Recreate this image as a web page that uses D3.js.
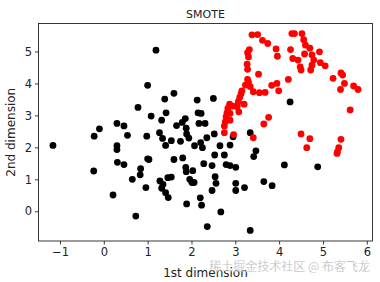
<!DOCTYPE html>
<html>
<head>
<meta charset="utf-8">
<script src="https://cdn.jsdelivr.net/npm/d3@7"></script>
<style>
  body { margin: 0; background: #fff; }
  svg { display: block; font-family: "DejaVu Sans", sans-serif; }
</style>
</head>
<body>
<div id="chart"></div>
<script>
// ---- DATA ----
const chartTitle = "SMOTE";
const xLabel = "1st dimension";
const yLabel = "2nd dimension";
const xTicks = [-1, 0, 1, 2, 3, 4, 5, 6];
const yTicks = [0, 1, 2, 3, 4, 5];

// majority class (black)
const blackPoints = [
  [-1.16, 2.06], [-0.22, 2.35], [-0.10, 2.58], [-0.23, 1.26], [0.21, 0.51],
  [0.30, 2.75], [0.30, 2.05], [0.30, 1.93], [0.31, 1.53], [0.46, 2.67],
  [0.54, 2.375], [0.46, 1.46], [0.65, 1.0], [0.73, -0.15], [0.78, 3.25],
  [0.84, 1.33], [0.83, 1.14], [0.96, 0.74], [1.0, 3.94], [0.98, 2.35],
  [1.0, 1.64], [1.03, 1.62], [1.08, 2.98], [1.19, 5.04], [1.27, 2.46],
  [1.28, 0.95], [1.32, 2.85], [1.34, 2.28], [1.39, 3.51], [1.42, 3.08],
  [1.41, 2.06], [1.32, 0.72], [1.35, 0.84], [1.41, 0.58], [1.47, 0.43],
  [1.46, 1.05], [1.54, 1.07], [1.54, 2.21], [1.60, 1.62], [1.60, 3.69],
  [1.66, 2.68], [1.75, 2.19], [1.79, 2.78], [1.80, 1.67], [1.86, 2.90],
  [1.88, 2.60], [1.89, 2.42], [1.94, 2.29], [1.87, 1.375], [1.88, 1.24],
  [1.89, 0.23], [1.96, 1.0], [2.01, 0.90], [2.03, 1.27], [2.06, 0.90],
  [2.07, 2.05], [2.13, 3.48], [2.15, 3.08], [2.22, 3.06], [2.17, 2.75],
  [2.21, 2.15], [2.25, 1.99], [2.28, 1.49], [2.20, 0.42], [2.23, 0.19],
  [2.31, 2.75], [2.35, 2.30], [2.36, -0.48], [2.50, 3.53], [2.52, 2.42],
  [2.47, 1.43], [2.53, 1.76], [2.54, 1.08], [2.56, 0.875], [2.47, 0.65],
  [2.65, 2.05], [2.67, -0.02], [2.75, 1.76], [2.79, 1.46], [2.88, 1.43],
  [2.88, 2.07], [2.95, 2.33], [3.01, 1.375], [3.01, 0.875], [3.01, 0.65],
  [3.04, 3.29], [3.21, 0.74], [3.34, 2.46], [3.34, -0.60], [3.42, 1.71],
  [3.47, 1.89], [3.65, 0.93], [3.84, 0.80], [4.12, 1.45], [4.25, 3.42],
  [4.88, 1.39]
];

// minority class + synthetic samples (red)
const redPoints = [
  [3.38, 5.52], [3.51, 5.53], [3.62, 5.35], [3.74, 5.25], [3.93, 5.08],
  [3.96, 4.85], [3.32, 5.06], [3.28, 4.96], [3.30, 4.83], [3.27, 4.60],
  [3.28, 4.44], [3.53, 4.29], [3.28, 4.125], [3.30, 4.04], [3.23, 3.95],
  [3.34, 3.90], [3.15, 3.77], [3.13, 3.67], [3.10, 3.56], [3.07, 3.43],
  [3.04, 3.27], [3.20, 3.35], [3.08, 3.11], [2.94, 3.29], [2.87, 3.35],
  [2.83, 3.22], [2.81, 3.08], [2.79, 2.96], [2.77, 2.80], [2.75, 2.67],
  [2.75, 2.46], [2.88, 3.06], [2.88, 2.85], [2.96, 2.40], [3.41, 2.30],
  [3.65, 2.73], [3.76, 2.94], [3.41, 3.74], [3.55, 3.71], [3.68, 3.72],
  [3.83, 3.94], [3.95, 4.0], [3.99, 3.77], [4.21, 4.125], [4.26, 5.06],
  [4.29, 5.56], [4.35, 5.56], [4.31, 4.78], [4.43, 4.73], [4.48, 4.52],
  [4.50, 4.42], [4.52, 5.56], [4.56, 5.37], [4.60, 5.20], [4.58, 4.92],
  [4.70, 5.10], [4.75, 4.89], [4.79, 4.73], [4.75, 4.57], [4.72, 4.42],
  [4.92, 4.99], [4.94, 4.65], [5.05, 4.55], [5.23, 4.16], [5.41, 4.33],
  [5.45, 4.26], [5.49, 4.0], [5.40, 3.81], [5.70, 3.92], [5.80, 3.81],
  [5.62, 3.17], [4.50, 2.42], [4.70, 2.27], [4.63, 1.99], [5.41, 2.25],
  [5.36, 1.99], [5.33, 1.86], [5.32, 1.81]
];

const watermark = "稀土掘金技术社区 @ 布客飞龙";

// ---- LAYOUT ----
const width = 380, height = 282;
const margin = { top: 23.5, right: 7.5, bottom: 41, left: 38.5 };
const innerWidth = width - margin.left - margin.right;
const innerHeight = height - margin.top - margin.bottom;

const svg = d3.select("#chart").append("svg")
  .attr("width", width)
  .attr("height", height);

const x = d3.scaleLinear().domain([-1.49, 6.13]).range([0, innerWidth]);
const y = d3.scaleLinear().domain([-0.93, 5.875]).range([innerHeight, 0]);

const g = svg.append("g")
  .attr("transform", `translate(${margin.left},${margin.top})`);

// points
g.selectAll(".black")
  .data(blackPoints)
  .enter()
  .append("circle")
  .attr("cx", d => x(d[0]))
  .attr("cy", d => y(d[1]))
  .attr("r", 3.4)
  .attr("fill", "#000");

g.selectAll(".red")
  .data(redPoints)
  .enter()
  .append("circle")
  .attr("cx", d => x(d[0]))
  .attr("cy", d => y(d[1]))
  .attr("r", 3.4)
  .attr("fill", "#ff0000");

// frame
g.append("rect")
  .attr("width", innerWidth)
  .attr("height", innerHeight)
  .attr("fill", "none")
  .attr("stroke", "#222")
  .attr("stroke-width", 0.9);

// axes
const fmt = d => d < 0 ? "\u2212" + Math.abs(d) : d;

const xAxis = g.append("g")
  .attr("transform", `translate(0,${innerHeight})`)
  .call(d3.axisBottom(x).tickValues(xTicks).tickFormat(fmt).tickSize(3.5).tickPadding(3));

const yAxis = g.append("g")
  .call(d3.axisLeft(y).tickValues(yTicks).tickFormat(fmt).tickSize(3.5).tickPadding(3));

[xAxis, yAxis].forEach(a => {
  a.select(".domain").remove();
  a.selectAll("line").attr("stroke", "#222").attr("stroke-width", 0.9);
  a.selectAll("text")
    .attr("fill", "#222")
    .attr("font-size", "11.5px")
    .attr("font-family", "DejaVu Sans");
});

// labels
svg.append("text")
  .attr("x", margin.left + innerWidth / 2)
  .attr("y", 17.5)
  .attr("text-anchor", "middle")
  .attr("font-size", "11px")
  .attr("fill", "#222")
  .text(chartTitle);

svg.append("text")
  .attr("x", margin.left + innerWidth / 2)
  .attr("y", 277)
  .attr("text-anchor", "middle")
  .attr("font-size", "12px")
  .attr("fill", "#222")
  .text(xLabel);

svg.append("text")
  .attr("transform", `translate(15,${margin.top + innerHeight / 2}) rotate(-90)`)
  .attr("text-anchor", "middle")
  .attr("font-size", "12px")
  .attr("fill", "#222")
  .text(yLabel);

// watermark
svg.append("text")
  .attr("x", 370)
  .attr("y", 271)
  .attr("text-anchor", "end")
  .attr("font-size", "12px")
  .attr("font-family", "Noto Sans CJK SC")
  .attr("fill", "rgba(120,120,120,0.7)")
  .attr("stroke", "rgba(255,255,255,0.6)")
  .attr("stroke-width", 0.6)
  .text(watermark);
</script>
</body>
</html>
